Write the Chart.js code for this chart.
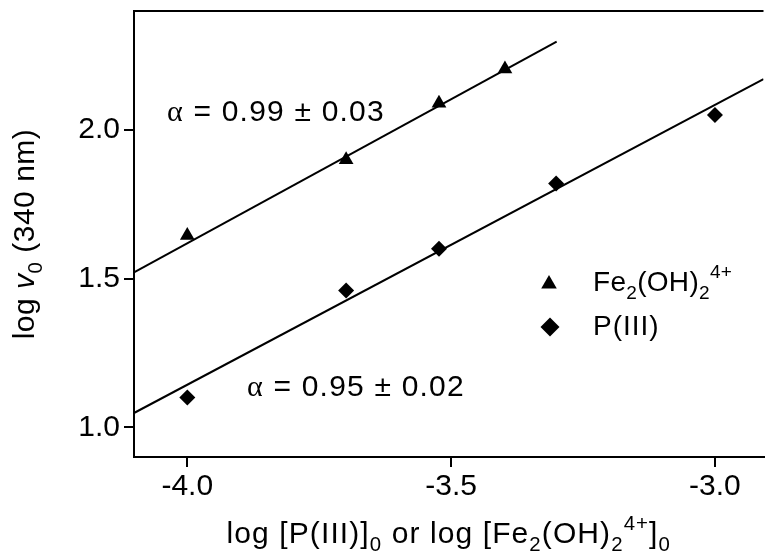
<!DOCTYPE html>
<html><head><meta charset="utf-8">
<script src="https://cdn.jsdelivr.net/npm/chart.js@4.4.0/dist/chart.umd.min.js"></script>
<style>html,body{margin:0;padding:0;background:#fff}#c{display:block}</style>
</head><body>
<div style="width:772px;height:560px"><canvas id="c" width="772" height="560"></canvas></div>
<script>
// ---- data ----
const xTicks = [-4.0, -3.5, -3.0];
const yTicks = [1.0, 1.5, 2.0];
const feX = [-4.0, -3.699, -3.523, -3.398];
const feY = [1.645, 1.90, 2.09, 2.205];
const pX = [-4.0, -3.699, -3.523, -3.301, -3.0];
const pY = [1.10, 1.46, 1.60, 1.82, 2.05];
const feFitX = [-4.101, -3.30];
const feFitY = [1.521, 2.297];
const pFitX = [-4.101, -2.908];
const pFitY = [1.048, 2.171];
const xRange = [-4.101, -2.908];
const yRange = [0.9, 2.4];
const feLabel = 'Fe2(OH)2 4+';
const pLabel = 'P(III)';
const feAlpha = '0.99 ± 0.03';
const pAlpha = '0.95 ± 0.02';

const SANS = "'Liberation Sans', Arial, sans-serif";
const SERIF = "'Liberation Serif', 'Times New Roman', serif";
const zip = (xs, ys) => xs.map((x, i) => ({x, y: ys[i]}));

function drawRich(ctx, x, y, parts, size, align, spacing) {
  ctx.letterSpacing = (spacing || 0) + 'px';
  const segs = parts.map(([t, m]) => {
    const small = (m === 'sub' || m === 'sup');
    const s = small ? size * 0.68 : size;
    const style = m === 'it' ? 'italic ' : '';
    const fam = m === 'serif' ? SERIF : SANS;
    const font = style + s + 'px ' + fam;
    ctx.font = font;
    const w = ctx.measureText(t).width;
    const dy = m === 'sub' ? size * 0.28 : (m === 'sup' ? -size * 0.45 : 0);
    return {t, font, w, dy};
  });
  const total = segs.reduce((a, s) => a + s.w, 0);
  let cx = align === 'center' ? x - total / 2 : x;
  for (const s of segs) { ctx.font = s.font; ctx.fillText(s.t, cx, y + s.dy); cx += s.w; }
  ctx.letterSpacing = '0px';
  return total;
}

const textPlugin = {
  id: 'texts',
  afterDraw(chart) {
    const ctx = chart.ctx, a = chart.chartArea;
    ctx.save();
    ctx.strokeStyle = '#000'; ctx.lineWidth = 2;
    ctx.beginPath(); ctx.moveTo(a.left - 1, a.top); ctx.lineTo(a.right, a.top); ctx.stroke();
    ctx.fillStyle = '#000';
    ctx.textBaseline = 'alphabetic'; ctx.textAlign = 'left';
    drawRich(ctx, 167, 121, [['α', 'serif'], [' = ' + feAlpha, 'n']], 30, 'left', 1.2);
    drawRich(ctx, 247, 396, [['α', 'serif'], [' = ' + pAlpha, 'n']], 30, 'left', 1.2);
    drawRich(ctx, 593, 291, [['Fe', 'n'], ['2', 'sub'], ['(OH)', 'n'], ['2', 'sub'], ['4+', 'sup']], 28, 'left', 0.3);
    drawRich(ctx, 593, 335, [[pLabel, 'n']], 28, 'left', 1);
    drawRich(ctx, (a.left + a.right) / 2, 543,
      [['log [P(III)]', 'n'], ['0', 'sub'], [' or log [Fe', 'n'], ['2', 'sub'], ['(OH)', 'n'], ['2', 'sub'], ['4+', 'sup'], [']', 'n'], ['0', 'sub']], 30, 'center', 1.1);
    ctx.translate(34, (a.top + a.bottom) / 2);
    ctx.rotate(-Math.PI / 2);
    drawRich(ctx, 0, 0, [['log ', 'n'], ['v', 'it'], ['0', 'sub'], [' (340 nm)', 'n']], 30, 'center', 0.5);
    ctx.restore();
  }
};

const legendPts = {
  id: 'legendPts',
  afterDraw(chart) {
    const ctx = chart.ctx;
    ctx.save();
    ctx.fillStyle = '#000'; ctx.strokeStyle = '#000';
    Chart.helpers.drawPoint(ctx, {pointStyle: 'triangle', radius: 9, borderWidth: 0}, 549, 284);
    Chart.helpers.drawPoint(ctx, {pointStyle: 'rectRot', radius: 9.5, borderWidth: 0}, 550, 327);
    ctx.restore();
  }
};

const tickFont = {family: SANS, size: 30};
new Chart(document.getElementById('c'), {
  type: 'scatter',
  data: {
    datasets: [
      {label: 'fitFe', data: zip(feFitX, feFitY), showLine: true, borderColor: '#000', borderWidth: 2, pointRadius: 0, fill: false},
      {label: 'fitP', data: zip(pFitX, pFitY), showLine: true, borderColor: '#000', borderWidth: 2, pointRadius: 0, fill: false},
      {label: feLabel, data: zip(feX, feY), pointStyle: 'triangle', pointRadius: 8.5, pointBackgroundColor: '#000', pointBorderWidth: 0, showLine: false},
      {label: pLabel, data: zip(pX, pY), pointStyle: 'rectRot', pointRadius: 8, pointBackgroundColor: '#000', pointBorderWidth: 0, showLine: false}
    ]
  },
  options: {
    responsive: false, animation: false, devicePixelRatio: 1,
    layout: {padding: {top: 11, left: 0, right: 0, bottom: 0}},
    plugins: {legend: {display: false}, tooltip: {enabled: false}},
    scales: {
      x: {
        type: 'linear', min: xRange[0], max: xRange[1],
        afterBuildTicks: s => { s.ticks = xTicks.map(v => ({value: v})); },
        afterFit: s => { s.height = 103; s.paddingLeft = 0; s.paddingRight = 0; },
        ticks: {callback: v => Number(v).toFixed(1), font: tickFont, color: '#000', padding: 2, maxRotation: 0, autoSkip: false},
        grid: {drawOnChartArea: false, drawTicks: true, tickLength: 10, color: '#000', lineWidth: 2},
        border: {display: true, color: '#000', width: 2}
      },
      y: {
        type: 'linear', min: yRange[0], max: yRange[1],
        afterBuildTicks: s => { s.ticks = yTicks.map(v => ({value: v})); },
        afterFit: s => { s.width = 134; s.paddingTop = 0; s.paddingBottom = 0; },
        ticks: {callback: v => Number(v).toFixed(1), font: tickFont, color: '#000', padding: 4, autoSkip: false},
        grid: {drawOnChartArea: false, drawTicks: true, tickLength: 10, color: '#000', lineWidth: 2},
        border: {display: true, color: '#000', width: 2}
      }
    }
  },
  plugins: [textPlugin, legendPts]
});
</script>
</body></html>
